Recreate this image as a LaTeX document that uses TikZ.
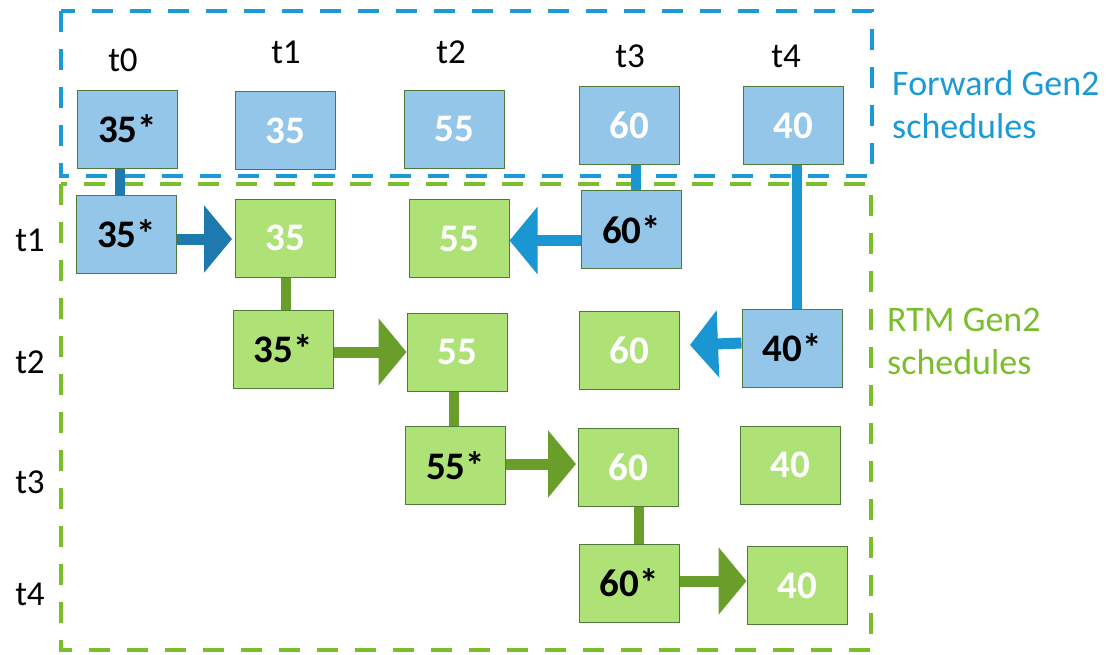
\documentclass[tikz,border=0pt]{standalone}
\usepackage{fontspec}
\setmainfont{Carlito}
\usetikzlibrary{arrows.meta}
\definecolor{bfill}{HTML}{93C6E8}
\definecolor{gfill}{HTML}{AEE276}
\definecolor{bdraw}{HTML}{4F7A3A}
\definecolor{garrow}{HTML}{6A9E2A}
\definecolor{barrow}{HTML}{1A96D3}
\definecolor{dbarrow}{HTML}{1E7AAE}
\definecolor{bdash}{HTML}{1B9AD6}
\definecolor{gdash}{HTML}{7BBE2C}
\tikzset{
  box/.style={draw=bdraw, line width=1pt, minimum width=100pt, minimum height=78pt, inner sep=0pt,
    font=\fontsize{39}{44}\selectfont\bfseries},
  bbox/.style={box, fill=bfill},
  gbox/.style={box, fill=gfill},
  plain/.style={text=white},
  star/.style={text=black},
  lbl/.style={font=\fontsize{35}{40}\selectfont, inner sep=0pt},
  side/.style={font=\fontsize{36}{43}\selectfont, inner sep=0pt, align=left, anchor=north west},
  dashbox/.style={line width=4.5pt, dash pattern=on 21pt off 17pt},
  bigarrow/.style={line width=11pt, -{Triangle[width=66pt,length=28pt]}},
  link/.style={line width=10pt}
}
\begin{document}
\begin{tikzpicture}[x=1pt,y=-1pt]
\useasboundingbox (0,0) rectangle (1107,654);
% dashed regions
\draw[dashbox, draw=bdash] (61,11) rectangle (872,176);
\draw[dashbox, draw=gdash] (61,184) rectangle (871,650);
% column labels
\node[lbl] (ct0) at (123,60) {t0};
\node[lbl] (ct1) at (286,52) {t1};
\node[lbl] (ct2) at (451,52) {t2};
\node[lbl] (ct3) at (630,56) {t3};
\node[lbl] (ct4) at (786,56) {t4};
% row labels
\node[lbl] (rt1) at (30,240) {t1};
\node[lbl] (rt2) at (30,362) {t2};
\node[lbl] (rt3) at (30,482) {t3};
\node[lbl] (rt4) at (30,594) {t4};
% side texts
\node[side, text=bdash] (fw) at (892,70) {Forward Gen2\\schedules};
\node[side, text=gdash] (rtm) at (887,308) {RTM Gen2\\schedules};
% boxes
\node[bbox,star]  (f0) at (127.5,129) {35*};
\node[bbox,plain] (f1) at (285.5,130.5) {35};
\node[bbox,plain] (f2) at (454,129) {55};
\node[bbox,plain] (f3) at (629,125) {60};
\node[bbox,plain] (f4) at (793,125.5) {40};
\node[bbox,star]  (a0) at (126.5,234) {35*};
\node[gbox,plain] (a1) at (285.5,238) {35};
\node[gbox,plain] (a2) at (459,238.5) {55};
\node[bbox,star]  (a3) at (631.5,229.5) {60*};
\node[gbox,star]  (b1) at (283,349) {35*};
\node[gbox,plain] (b2) at (457,352) {55};
\node[gbox,plain] (b3) at (629.5,350) {60};
\node[bbox,star]  (b4) at (792,348) {40*};
\node[gbox,star]  (c2) at (455.5,465.5) {55*};
\node[gbox,plain] (c3) at (628.5,467) {60};
\node[gbox,plain] (c4) at (790,465) {40};
\node[gbox,star]  (d3) at (629,583) {60*};
\node[gbox,plain] (d4) at (797,585.5) {40};
% vertical links
\draw[link, draw=dbarrow] ([xshift=-8pt]f0.south) -- ([xshift=-8pt]f0.south |- a0.north);
\draw[link, draw=barrow] ([xshift=7pt]f3.south) -- ([xshift=7pt]f3.south |- a3.north);
\draw[link, draw=barrow] ([xshift=4pt]f4.south) -- ([xshift=4pt]f4.south |- b4.north);
\draw[link, draw=garrow] (a1.south) -- (a1.south |- b1.north);
\draw[link, draw=garrow] ([xshift=-3pt]b2.south) -- ([xshift=-3pt]b2.south |- c2.north);
\draw[link, draw=garrow] ([xshift=10pt]c3.south) -- ([xshift=10pt]c3.south |- d3.north);
% horizontal arrows
\draw[bigarrow, draw=dbarrow, fill=dbarrow] ([yshift=-1pt]a0.east |- a1.west) -- ([yshift=-1pt,xshift=-3pt]a1.west);
\draw[bigarrow, draw=barrow, fill=barrow] ([yshift=-2pt]a3.west |- a2.east) -- ([yshift=-2pt]a2.east);
\draw[bigarrow, draw=garrow, fill=garrow] (b1.east |- b2.west) -- (b2.west);
\draw[bigarrow, draw=barrow, fill=barrow] ([yshift=5pt]b4.west) -- ([yshift=5pt,xshift=10pt]b3.east);
\draw[bigarrow, draw=garrow, fill=garrow] ([yshift=3pt]c2.east |- c3.west) -- ([yshift=3pt,xshift=-2pt]c3.west);
\draw[bigarrow, draw=garrow, fill=garrow] ([yshift=2pt]d3.east) -- ([yshift=2pt]d3.east -| d4.west);
\end{tikzpicture}
\end{document}
